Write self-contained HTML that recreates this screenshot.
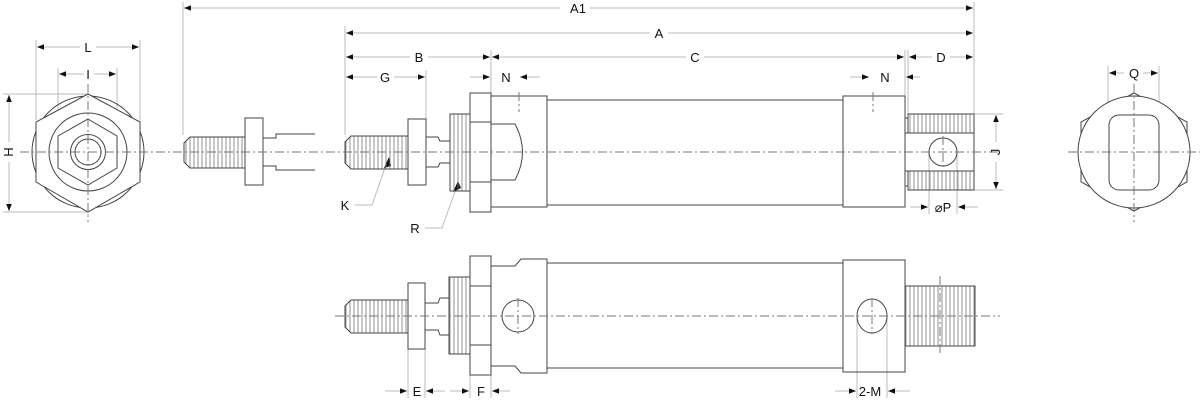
<!DOCTYPE html>
<html><head><meta charset="utf-8"><style>
html,body{margin:0;padding:0;background:#fff}
svg{display:block}
text{font-family:"Liberation Sans",sans-serif;font-size:13px;fill:#111}
</style></head><body>
<svg width="1200" height="400" viewBox="0 0 1200 400" xmlns="http://www.w3.org/2000/svg">
<defs>
<pattern id="th" width="4" height="10" patternUnits="userSpaceOnUse"><line x1="2" y1="0" x2="2" y2="10" stroke="#777" stroke-width="0.8"/></pattern>
<marker id="ar" viewBox="0 0 10 10" refX="10" refY="5" markerWidth="8" markerHeight="7" orient="auto-start-reverse"><path d="M0,1 L10,5 L0,9 z" fill="#111"/></marker>
</defs>
<g fill="none" stroke="#bbb" stroke-width="1">
<line x1="183" y1="2" x2="183" y2="135"/>
<line x1="974" y1="2" x2="974" y2="114"/>
<line x1="345" y1="26" x2="345" y2="135"/>
<line x1="491" y1="50" x2="491" y2="93"/>
<line x1="426" y1="70" x2="426" y2="119"/>
<line x1="905" y1="50" x2="905" y2="96"/>
<line x1="908" y1="50" x2="908" y2="114"/>
<line x1="36" y1="40" x2="36" y2="120"/>
<line x1="140" y1="40" x2="140" y2="150"/>
<line x1="58" y1="68" x2="58" y2="137"/>
<line x1="117" y1="68" x2="117" y2="137"/>
<line x1="3" y1="94" x2="88" y2="94"/>
<line x1="3" y1="212" x2="88" y2="212"/>
<line x1="974" y1="114" x2="1003" y2="114"/>
<line x1="974" y1="190" x2="1003" y2="190"/>
<line x1="929" y1="152" x2="929" y2="214"/>
<line x1="957" y1="152" x2="957" y2="214"/>
<line x1="1108" y1="66" x2="1108" y2="150"/>
<line x1="1159" y1="66" x2="1159" y2="150"/>
<line x1="408" y1="349" x2="408" y2="398"/>
<line x1="425" y1="349" x2="425" y2="398"/>
<line x1="470" y1="375" x2="470" y2="398"/>
<line x1="491" y1="375" x2="491" y2="398"/>
<line x1="857" y1="316" x2="857" y2="398"/>
<line x1="887" y1="316" x2="887" y2="398"/>
<polyline points="355,205 372,205 387,162"/>
<polyline points="425,228 442,228 457,186"/>
</g>
<g stroke="#bbb" stroke-width="1" fill="none" marker-end="url(#ar)">
<line x1="560" y1="8" x2="184" y2="8"/><line x1="590" y1="8" x2="973" y2="8"/>
<line x1="650" y1="33" x2="346" y2="33"/><line x1="668" y1="33" x2="973" y2="33"/>
<line x1="410" y1="57" x2="346" y2="57"/><line x1="428" y1="57" x2="490" y2="57"/>
<line x1="686" y1="57" x2="492" y2="57"/><line x1="704" y1="57" x2="904" y2="57"/>
<line x1="932" y1="57" x2="909" y2="57"/><line x1="950" y1="57" x2="973" y2="57"/>
<line x1="377" y1="77" x2="346" y2="77"/><line x1="394" y1="77" x2="425" y2="77"/>
<line x1="470" y1="77" x2="490" y2="77"/><line x1="540" y1="77" x2="520" y2="77"/>
<line x1="850" y1="77" x2="869" y2="77"/><line x1="920" y1="77" x2="906" y2="77"/>
<line x1="80" y1="47" x2="37" y2="47"/><line x1="96" y1="47" x2="139" y2="47"/>
<line x1="84" y1="74" x2="59" y2="74"/><line x1="94" y1="74" x2="116" y2="74"/>
<line x1="9" y1="142" x2="9" y2="95"/><line x1="9" y1="162" x2="9" y2="211"/>
<line x1="996" y1="142" x2="996" y2="115"/><line x1="996" y1="162" x2="996" y2="189"/>
<line x1="910" y1="207" x2="928" y2="207"/><line x1="978" y1="207" x2="958" y2="207"/>
<line x1="1124" y1="73" x2="1109" y2="73"/><line x1="1143" y1="73" x2="1158" y2="73"/>
<line x1="385" y1="391" x2="407" y2="391"/><line x1="445" y1="391" x2="426" y2="391"/>
<line x1="450" y1="391" x2="469" y2="391"/><line x1="510" y1="391" x2="492" y2="391"/>
<line x1="835" y1="391" x2="856" y2="391"/><line x1="910" y1="391" x2="888" y2="391"/>
</g>
<path d="M384,168 L389,157 L391,166z" fill="#111"/>
<path d="M453,192 L458,181 L461,188z" fill="#111"/>
<g text-anchor="middle">
<text x="578" y="13">A1</text><text x="659" y="38">A</text>
<text x="419" y="62">B</text><text x="695" y="62">C</text><text x="941" y="62">D</text>
<text x="385" y="82">G</text><text x="506" y="82">N</text><text x="885" y="82">N</text>
<text x="88" y="52">L</text><text x="88" y="79">I</text>
<text x="9" y="152" transform="rotate(-90 9 152)" dy="4">H</text>
<text x="996" y="152" transform="rotate(-90 996 152)" dy="4">J</text>
<text x="943" y="212">⌀P</text><text x="1134" y="78">Q</text>
<text x="345" y="210">K</text><text x="415" y="233">R</text>
<text x="417" y="396">E</text><text x="481" y="396">F</text><text x="870" y="396">2-M</text>
</g>
<g fill="none" stroke="#444" stroke-width="1">
<circle cx="88" cy="152" r="56"/>
<polygon points="88,94 140,122 140,182 88,212 36,182 36,122" fill="#fff"/>
<circle cx="88" cy="152" r="39"/>
<polygon points="88,119 117,136 117,168 88,185 58,168 58,136"/>
<circle cx="88" cy="152" r="17.5"/><circle cx="88" cy="152" r="13"/>
<path d="M190,137 L245,137 L245,168 L190,168 L184,162 L184,143 Z" fill="url(#th)"/>
<rect x="245" y="118" width="18" height="67"/>
<path d="M263,138 L276,138 L276,134 L315,134 M263,166 L276,166 L276,170 L315,170" />
<path d="M351,136 L408,136 L408,169 L351,169 L345,163 L345,142 Z" fill="url(#th)"/>
<rect x="408" y="119" width="18" height="66"/>
<path d="M426,137 L438,137 L440,141 L450,141 M426,167 L438,167 L440,163 L450,163"/>
<rect x="450" y="114" width="20" height="77" fill="url(#th)"/>
<rect x="470" y="93" width="21" height="119"/>
<line x1="470" y1="122" x2="491" y2="122"/><line x1="470" y1="182" x2="491" y2="182"/>
<rect x="491" y="96" width="56" height="111"/>
<path d="M491,124 L515,124 Q530,152 515,180 L491,180"/>
<rect x="547" y="100" width="296" height="105"/>
<rect x="843" y="96" width="62" height="111"/>
<rect x="905" y="118" width="3" height="15"/><rect x="905" y="171" width="3" height="15"/>
<rect x="908" y="114" width="66" height="19" fill="url(#th)"/>
<rect x="908" y="171" width="66" height="19" fill="url(#th)"/>
<path d="M905,133 L974,133 L974,171 L905,171"/>
<circle cx="943" cy="152" r="14"/>
<polygon points="1134,93 1187,122 1187,182 1134,211 1081,182 1081,122"/>
<circle cx="1134" cy="152" r="56" fill="#fff"/>
<rect x="1109" y="115" width="50" height="75" rx="10"/>
<path d="M351,300 L408,300 L408,333 L351,333 L345,327 L345,306 Z" fill="url(#th)"/>
<rect x="408" y="283" width="17" height="66"/>
<path d="M425,303 L438,303 L440,298 L449,298 M425,330 L438,330 L440,335 L449,335"/>
<rect x="449" y="277" width="21" height="77" fill="url(#th)"/>
<rect x="470" y="256" width="21" height="119"/>
<line x1="470" y1="286" x2="491" y2="286"/><line x1="470" y1="345" x2="491" y2="345"/>
<path d="M491,266 L515,266 L521,259 L547,259 L547,373 L521,373 L515,366 L491,366"/>
<rect x="547" y="263" width="296" height="105"/>
<rect x="843" y="260" width="62" height="112"/>
<rect x="905" y="286" width="70" height="60" fill="url(#th)"/>
<ellipse cx="518" cy="316" rx="16" ry="16"/>
<ellipse cx="872" cy="316" rx="15" ry="17"/>
</g>
<g stroke="#777" stroke-width="1" stroke-dasharray="9,3,2,3" fill="none">
<line x1="20" y1="152" x2="1000" y2="152"/>
<line x1="1068" y1="152" x2="1200" y2="152"/>
<line x1="88" y1="84" x2="88" y2="222"/>
<line x1="1134" y1="84" x2="1134" y2="222"/>
<line x1="335" y1="316" x2="1000" y2="316"/>
<line x1="519" y1="92" x2="519" y2="112"/>
<line x1="873" y1="92" x2="873" y2="112"/>
<line x1="943" y1="136" x2="943" y2="168"/>
<line x1="518" y1="298" x2="518" y2="334"/>
<line x1="872" y1="298" x2="872" y2="334"/>
<line x1="940" y1="276" x2="940" y2="356"/>
</g>
</svg>
</body></html>
